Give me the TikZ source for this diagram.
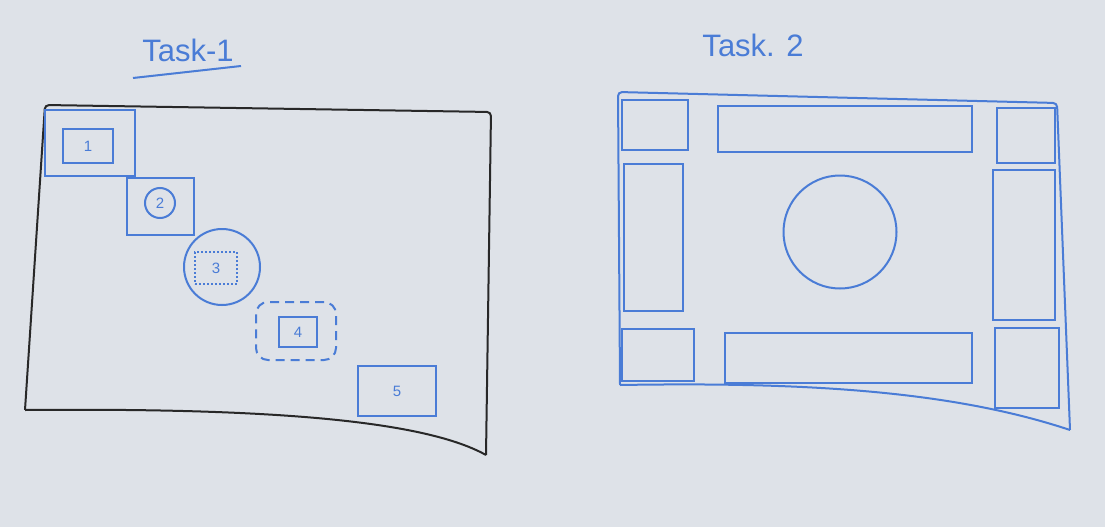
\documentclass[tikz,border=0pt]{standalone}
\usepackage{fontspec}
\setmainfont{Liberation Sans}
\usetikzlibrary{calc}
\definecolor{pen}{RGB}{74,124,214}
\definecolor{board}{RGB}{222,226,232}
\definecolor{frame}{RGB}{40,40,40}
\tikzset{
  zone/.style={ % a blue marker box
    draw=pen, line width=2pt, rectangle, inner sep=0pt,
    text=pen, font=\fontsize{15}{17}\selectfont
  },
  ring/.style={ % a blue marker circle
    draw=pen, line width=2pt, circle, inner sep=0pt,
    text=pen, font=\fontsize{15}{17}\selectfont
  },
  dotbox/.style={zone, dotted, line width=2pt},
  dashbox/.style={zone, dashed, dash pattern=on 9pt off 6pt, rounded corners=12pt},
  heading/.style={text=pen, font=\fontsize{31}{36}\selectfont}
}
\begin{document}
\begin{tikzpicture}[x=1pt, y=-1pt]
  \fill[board] (0,0) rectangle (1105,527);
  \useasboundingbox (0,0) rectangle (1105,527);

  % Task 1
  \node[heading] (t1) at (188,50) {Task-1};
  \draw[pen, line width=2pt] (133,78) -- (241,66);
  \draw[frame, line width=2pt, rounded corners=4pt]
    (25,410) -- (45,105) -- (491,112) -- (486,455);
  \draw[frame, line width=2pt] (486,455) .. controls (420,418) and (250,408) .. (25,410);

  \node[zone, minimum width=90pt, minimum height=66pt] (out1) at (90,143) {};
  \node[zone, minimum width=50pt, minimum height=34pt] (in1) at (88,146) {1};
  \node[zone, minimum width=67pt, minimum height=57pt] (box2) at (160,206) {};
  \node[ring, minimum size=30pt] (c2) at (160,203) {2};
  \node[ring, minimum size=76pt] (c3) at (222,267) {};
  \node[dotbox, minimum width=42pt, minimum height=32pt] (in3) at (216,268) {3};
  \node[dashbox, minimum width=80pt, minimum height=58pt] (out4) at (296,331) {};
  \node[zone, minimum width=38pt, minimum height=30pt] (in4) at (298,332) {4};
  \node[zone, minimum width=78pt, minimum height=50pt] (box5) at (397,391) {5};

  % Task 2
  \node[heading] (t2) at (753,45) {Task. 2};
  \draw[pen, line width=2pt, rounded corners=4pt]
    (620,385) -- (618,92) -- (1057,103) -- (1070,430);
  \draw[pen, line width=2pt] (1070,430) .. controls (950,390) and (800,382) .. (620,385);

  \node[zone, minimum width=66pt, minimum height=50pt] (tl) at (655,125) {};
  \node[zone, minimum width=254pt, minimum height=46pt] (tbar) at (845,129) {};
  \node[zone, minimum width=58pt, minimum height=55pt] (tr) at (1026,135) {};
  \node[zone, minimum width=59pt, minimum height=147pt] (lt) at (653,237) {};
  \node[ring, minimum size=113pt] (mid) at (840,232) {};
  \node[zone, minimum width=62pt, minimum height=150pt] (rt) at (1024,245) {};
  \node[zone, minimum width=72pt, minimum height=52pt] (bl) at (658,355) {};
  \node[zone, minimum width=247pt, minimum height=50pt] (bbar) at (848,358) {};
  \node[zone, minimum width=64pt, minimum height=80pt] (br) at (1027,368) {};
\end{tikzpicture}
\end{document}
